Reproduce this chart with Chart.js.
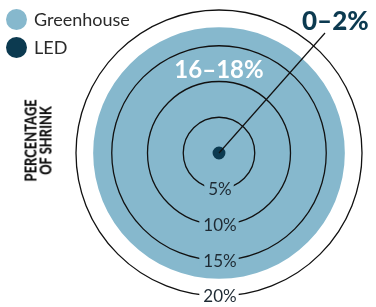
<!DOCTYPE html>
<html>
<head>
<meta charset="utf-8">
<script src="https://cdn.jsdelivr.net/npm/chart.js@4"></script>
<style>
  html, body { margin: 0; padding: 0; background: #ffffff; }
  #wrap { position: relative; width: 376px; height: 307px; }
  canvas { position: absolute; left: 0; top: 0; }
  .leg { position: absolute; left: 6px; font-family: Lato, "Open Sans", sans-serif; font-size: 18px; color: #2a2a2a; display: flex; align-items: center; }
  .dot { width: 21px; height: 21px; border-radius: 50%; margin-right: 7px; }
  #ytitle { position: absolute; left: -22px; top: 126px; width: 120px; transform: rotate(-90deg) scaleX(0.76); transform-origin: 50% 50%;
    font-family: Lato, sans-serif; font-weight: 900; font-size: 17px; line-height: 14.5px; text-align: center; color: #111; }
</style>
</head>
<body>
<div id="wrap">
  <canvas id="c" width="376" height="307"></canvas>
  <div class="leg" style="top:8px"><span class="dot" style="background:#86b8cd"></span>Greenhouse</div>
  <div class="leg" style="top:36px"><span class="dot" style="background:#0c3a50"></span>LED</div>
  <div id="ytitle">PERCENTAGE<br>OF SHRINK</div>
</div>
<script>
const categories = ["LED", "Greenhouse"];
const shrinkValues = [0.9, 17.6];
const rangeLabels = ["0–2%", "16–18%"];
const tickValues = [5, 10, 15, 20];
const tickLabels = ["5%", "10%", "15%", "20%"];
const colors = ["#0c3a50", "#86b8cd"];

const labelPlugin = {
  id: "labels",
  afterDraw(chart) {
    const s = chart.scales.r;
    const ctx = chart.ctx;
    const cx = s.xCenter, cy = s.yCenter;
    const ghR = s.getDistanceFromCenterForValue(shrinkValues[1]);
    ctx.save();
    ctx.font = "17px Lato, sans-serif";
    ctx.textAlign = "center";
    ctx.textBaseline = "middle";
    tickValues.forEach((v, i) => {
      const d = s.getDistanceFromCenterForValue(v);
      const w = ctx.measureText(tickLabels[i]).width + 6;
      ctx.fillStyle = d < ghR ? colors[1] : "#ffffff";
      ctx.fillRect(cx - w / 2, cy + d - 7, w, 14);
      ctx.fillStyle = "#1e2a33";
      ctx.fillText(tickLabels[i], cx + 1, cy + d + 1);
    });
    // Greenhouse label
    ctx.font = "bold 24px Lato, sans-serif";
    ctx.fillStyle = "#ffffff";
    ctx.textBaseline = "alphabetic";
    ctx.fillText(rangeLabels[1], cx, cy - s.getDistanceFromCenterForValue(10.5));
    // LED label with leader
    ctx.strokeStyle = "#111";
    ctx.lineWidth = 1.2;
    ctx.beginPath();
    ctx.moveTo(cx, cy);
    ctx.lineTo(325, 33);
    ctx.stroke();
    ctx.font = "900 26px Lato, sans-serif";
    ctx.fillStyle = colors[0];
    ctx.textAlign = "left";
    ctx.fillText(rangeLabels[0], 302, 30);
    ctx.restore();
  }
};

new Chart(document.getElementById("c"), {
  type: "polarArea",
  data: {
    labels: ["value"],
    datasets: categories.map((c, i) => ({
      label: c,
      data: [shrinkValues[i]],
      backgroundColor: colors[i],
      borderWidth: 0
    }))
  },
  options: {
    responsive: false,
    animation: false,
    layout: { padding: { left: 76, right: 14, top: 10, bottom: 11 } },
    plugins: { legend: { display: false }, tooltip: { enabled: false } },
    scales: {
      r: {
        min: 0, max: 20,
        ticks: { display: false, stepSize: 5 },
        grid: { z: 1, color: "#111", lineWidth: 1.3 },
        pointLabels: { display: false },
        angleLines: { display: false }
      }
    }
  },
  plugins: [labelPlugin]
});
</script>
</body>
</html>
